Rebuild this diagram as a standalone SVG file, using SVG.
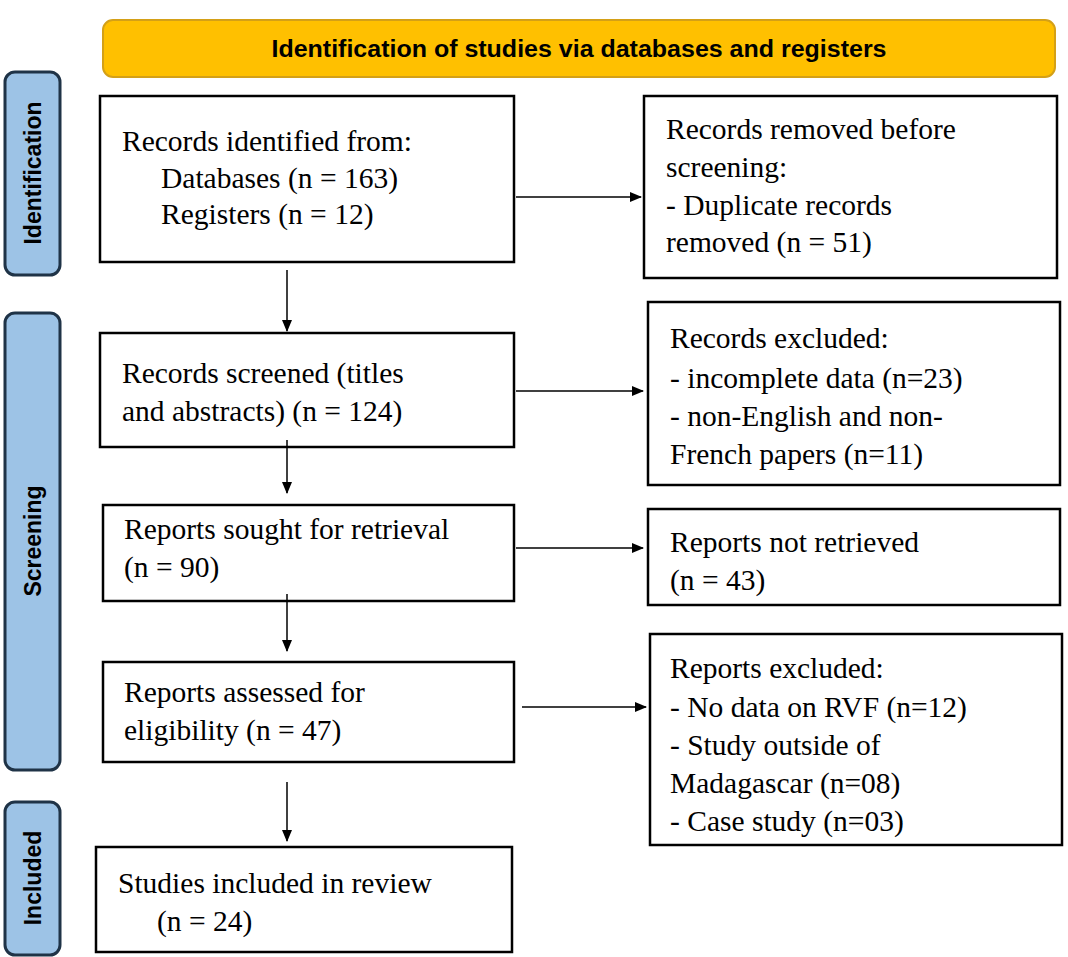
<svg xmlns="http://www.w3.org/2000/svg" width="1068" height="957" viewBox="0 0 1068 957">
<style>
.box{fill:#fff;stroke:#000;stroke-width:2.5}
.side{fill:#9DC3E6;stroke:#1F3347;stroke-width:3}
.t{font-family:"Liberation Serif","Times New Roman",serif;font-size:29.5px;fill:#000}
.s{font-family:"Liberation Sans",Arial,sans-serif;font-size:23px;font-weight:bold;fill:#000}
.c line{stroke:#000;stroke-width:1.5;marker-end:url(#a)}
</style>
<defs><marker id="a" markerWidth="12" markerHeight="10" refX="11" refY="5" orient="auto" markerUnits="userSpaceOnUse"><path d="M0,0 L12,5 L0,10 z" fill="#000"/></marker></defs>
<rect width="1068" height="957" fill="#fff"/>
<g id="header"><rect x="103" y="20" width="952" height="57" rx="10" fill="#FFC000" stroke="#D4A017" stroke-width="2"/><text class="s" x="579" y="57" text-anchor="middle" textLength="615" lengthAdjust="spacingAndGlyphs">Identification of studies via databases and registers</text></g>
<g id="side-identification"><rect class="side" x="5" y="72" width="55" height="203" rx="10"/><text class="s" transform="translate(41,173) rotate(-90)" text-anchor="middle">Identification</text></g>
<g id="side-screening"><rect class="side" x="5" y="313" width="55" height="457" rx="10"/><text class="s" transform="translate(41,541) rotate(-90)" text-anchor="middle">Screening</text></g>
<g id="side-included"><rect class="side" x="5" y="802" width="55" height="153" rx="10"/><text class="s" transform="translate(41,878) rotate(-90)" text-anchor="middle">Included</text></g>
<g id="b1"><rect class="box" x="100" y="96" width="414" height="166"/><text class="t" x="122" y="151">Records identified from:</text><text class="t" x="161" y="188">Databases (n = 163)</text><text class="t" x="161" y="224">Registers (n = 12)</text></g>
<g id="r1"><rect class="box" x="644" y="96" width="413" height="182"/><text class="t" x="666" y="139">Records removed before</text><text class="t" x="666" y="177">screening:</text><text class="t" x="666" y="215">- Duplicate records</text><text class="t" x="666" y="252">removed (n = 51)</text></g>
<g id="b2"><rect class="box" x="100" y="333" width="414" height="114"/><text class="t" x="122" y="383">Records screened (titles</text><text class="t" x="122" y="421">and abstracts) (n = 124)</text></g>
<g id="r2"><rect class="box" x="648" y="302" width="412" height="183"/><text class="t" x="670" y="348">Records excluded:</text><text class="t" x="670" y="388">- incomplete data (n=23)</text><text class="t" x="670" y="426">- non-English and non-</text><text class="t" x="670" y="464">French papers (n=11)</text></g>
<g id="b3"><rect class="box" x="103" y="505" width="411" height="96"/><text class="t" x="124" y="539">Reports sought for retrieval</text><text class="t" x="124" y="577">(n = 90)</text></g>
<g id="r3"><rect class="box" x="648" y="509" width="412" height="96"/><text class="t" x="670" y="552">Reports not retrieved</text><text class="t" x="670" y="590">(n = 43)</text></g>
<g id="b4"><rect class="box" x="103" y="662" width="411" height="100"/><text class="t" x="124" y="702">Reports assessed for</text><text class="t" x="124" y="740">eligibility (n = 47)</text></g>
<g id="r4"><rect class="box" x="650" y="634" width="412" height="211"/><text class="t" x="670" y="678">Reports excluded:</text><text class="t" x="670" y="717">- No data on RVF (n=12)</text><text class="t" x="670" y="755">- Study outside of</text><text class="t" x="670" y="793">Madagascar (n=08)</text><text class="t" x="670" y="831">- Case study (n=03)</text></g>
<g id="b5"><rect class="box" x="96" y="847" width="416" height="105"/><text class="t" x="118" y="893">Studies included in review</text><text class="t" x="157" y="931">(n = 24)</text></g>
<g class="c" id="connectors">
<line x1="287" y1="270" x2="287" y2="331"/>
<line x1="287" y1="440" x2="287" y2="493"/>
<line x1="287" y1="594" x2="287" y2="651"/>
<line x1="287" y1="782" x2="287" y2="841"/>
<line x1="516" y1="197" x2="641" y2="197"/>
<line x1="516" y1="391" x2="643" y2="391"/>
<line x1="516" y1="548" x2="643" y2="548"/>
<line x1="522" y1="707" x2="646" y2="707"/>
</g>
</svg>
